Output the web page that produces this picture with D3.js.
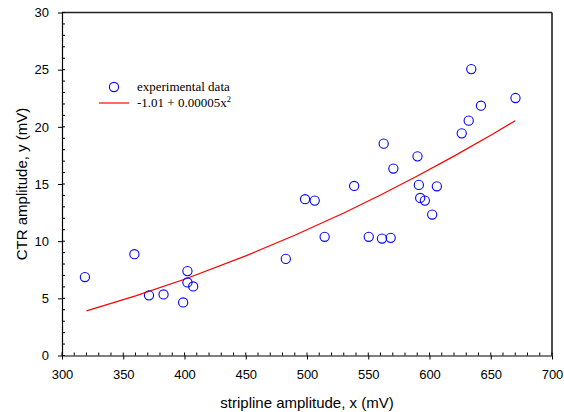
<!DOCTYPE html>
<html><head><meta charset="utf-8">
<script src="https://cdn.jsdelivr.net/npm/d3@7"></script>
<style>body{margin:0;background:#fff}svg{display:block}</style>
</head><body>
<svg id="c" width="564" height="412"></svg>
<script>
const dataX = [318.7,359.1,371.0,382.9,398.9,402.4,402.4,407.1,482.7,498.4,506.3,514.4,538.5,550.4,561.2,568.3,562.6,570.5,591.3,590.2,592.4,596.2,602.2,606.0,626.3,632.0,634.1,642.0,670.2];
const dataY = [6.86,8.86,5.26,5.34,4.64,7.38,6.39,6.04,8.45,13.67,13.55,10.38,14.83,10.38,10.23,10.29,18.53,16.35,14.92,17.42,13.78,13.55,12.33,14.80,19.43,20.54,25.05,21.85,22.52];
const fitX = [320,360,400,450,490,530,560,590,620,650,670];
const fitY = [3.90,5.21,6.67,8.71,10.52,12.47,14.04,15.70,17.44,19.27,20.54];
const xTicks = [300,350,400,450,500,550,600,650,700];
const yTicks = [0,5,10,15,20,25,30];
const legendLabels = ["experimental data","-1.01 + 0.00005x"];

const svg = d3.select("#c");
const L=62, R=552, T=12.5, B=355.5;
const x = d3.scaleLinear().domain([300,700]).range([L,R]);
const y = d3.scaleLinear().domain([0,30]).range([B,T]);

svg.append("line").attr("x1",L).attr("x2",R).attr("y1",T).attr("y2",T).attr("stroke","#222").attr("stroke-width",1.4);
svg.append("line").attr("x1",R).attr("x2",R).attr("y1",T).attr("y2",B).attr("stroke","#222").attr("stroke-width",1.6);

const xMinor = d3.range(300,701,10);
const yMinor = d3.range(0,31,1);
const gx = svg.append("g").attr("transform",`translate(0,${B})`)
  .call(d3.axisBottom(x).tickValues(xTicks).tickSize(4).tickPadding(10).tickSizeOuter(0));
const gy = svg.append("g").attr("transform",`translate(${L},0)`)
  .call(d3.axisLeft(y).tickValues(yTicks).tickSize(4).tickPadding(9).tickSizeOuter(0));
[gx,gy].forEach(g=>{
  g.select(".domain").attr("stroke","#000").attr("stroke-width",1.2);
  g.selectAll(".tick line").attr("stroke","#000");
  g.selectAll("text").attr("font-family","Liberation Sans, Arial, sans-serif").attr("font-size",13).attr("fill","#000");
});
svg.append("g").selectAll("line").data(xMinor).join("line")
  .attr("x1",d=>x(d)).attr("x2",d=>x(d)).attr("y1",B).attr("y2",B-3).attr("stroke","#000");
svg.append("g").selectAll("line").data(yMinor).join("line")
  .attr("y1",d=>y(d)).attr("y2",d=>y(d)).attr("x1",L).attr("x2",L+3).attr("stroke","#000");

svg.append("path").datum(fitX.map((v,i)=>[v,fitY[i]]))
  .attr("d",d3.line().x(d=>x(d[0])).y(d=>y(d[1])))
  .attr("fill","none").attr("stroke","#ff0000").attr("stroke-width",1.2);

svg.append("g").selectAll("circle").data(dataX.map((v,i)=>[v,dataY[i]])).join("circle")
  .attr("cx",d=>x(d[0])).attr("cy",d=>y(d[1])).attr("r",4.6)
  .attr("fill","none").attr("stroke","#0000ff").attr("stroke-width",1.1);

svg.append("circle").attr("cx",114).attr("cy",87).attr("r",4.6).attr("fill","none").attr("stroke","#0000ff").attr("stroke-width",1.1);
svg.append("line").attr("x1",99).attr("x2",129).attr("y1",103).attr("y2",103).attr("stroke","#ff0000").attr("stroke-width",1.2);
svg.append("text").attr("x",137).attr("y",91).attr("font-family","Liberation Serif, Times New Roman, serif").attr("font-size",13).text(legendLabels[0]);
const t2 = svg.append("text").attr("x",137).attr("y",107).attr("font-family","Liberation Serif, Times New Roman, serif").attr("font-size",13).text(legendLabels[1]);
t2.append("tspan").attr("dy",-5).attr("font-size",8.5).text("2");

svg.append("text").attr("x",(L+R)/2).attr("y",408).attr("text-anchor","middle")
  .attr("font-family","Liberation Sans, Arial, sans-serif").attr("font-size",15).text("stripline amplitude, x (mV)");
svg.append("text").attr("transform",`translate(27,${(T+B)/2}) rotate(-90)`).attr("text-anchor","middle")
  .attr("font-family","Liberation Sans, Arial, sans-serif").attr("font-size",15).text("CTR amplitude, y (mV)");
</script>
</body></html>
